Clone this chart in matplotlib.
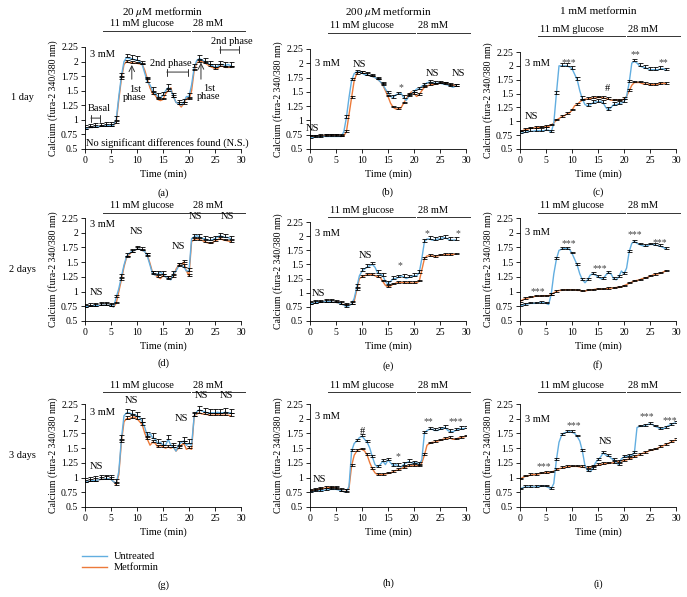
import numpy as np
import matplotlib
matplotlib.use('Agg')
import matplotlib.pyplot as plt

plt.rcParams['font.family'] = ['Liberation Serif', 'DejaVu Serif']
plt.rcParams['mathtext.fontset'] = 'stix'

blue = '#62aee0'
orange = '#ec7a3a'

# time axis (min), sampled every 0.5 min
t28 = np.arange(0, 28.01, 0.5)
t30 = np.arange(0, 30.01, 0.5)

# ---- row 1: 1 day ----
a_untreated = [0.85, 0.86, 0.87, 0.87, 0.88, 0.88, 0.89, 0.89, 0.9, 0.9, 0.9, 0.91,
               1.0, 1.4, 1.75, 2.0, 2.07, 2.05, 2.05, 2.03, 2.03, 2.0, 1.95, 1.8,
               1.65, 1.6, 1.5, 1.45, 1.4, 1.38, 1.42, 1.5, 1.55, 1.52, 1.4, 1.3,
               1.28, 1.25, 1.3, 1.4, 1.4, 1.6, 1.9, 2.02, 2.05, 2.03, 2.0, 1.97,
               1.95, 1.93, 1.9, 1.92, 1.95, 1.95, 1.93, 1.95, 1.93]
a_metformin = [0.85, 0.86, 0.87, 0.87, 0.88, 0.88, 0.89, 0.89, 0.9, 0.9, 0.9, 0.91,
               0.95, 1.35, 1.7, 1.95, 2.0, 1.98, 1.98, 1.97, 1.97, 1.96, 1.95, 1.85,
               1.7, 1.55, 1.45, 1.42, 1.35, 1.33, 1.35, 1.45, 1.5, 1.55, 1.4, 1.3,
               1.28, 1.22, 1.28, 1.37, 1.35, 1.5, 1.85, 1.98, 2.0, 2.0, 1.98, 1.95,
               1.92, 1.9, 1.88, 1.88, 1.92, 1.92, 1.9, 1.9, 1.9]
b_untreated = [0.7, 0.7, 0.71, 0.71, 0.71, 0.72, 0.72, 0.72, 0.72, 0.72, 0.72, 0.72,
               0.72, 0.8, 1.05, 1.4, 1.7, 1.82, 1.85, 1.85, 1.83, 1.8, 1.8, 1.78,
               1.77, 1.75, 1.72, 1.68, 1.63, 1.55, 1.48, 1.42, 1.4, 1.45, 1.46, 1.48,
               1.4, 1.35, 1.42, 1.47, 1.5, 1.55, 1.55, 1.6, 1.62, 1.66, 1.67, 1.66,
               1.65, 1.65, 1.65, 1.64, 1.63, 1.62, 1.6, 1.58, 1.6]
b_metformin = [0.72, 0.72, 0.72, 0.72, 0.73, 0.73, 0.74, 0.74, 0.74, 0.74, 0.74, 0.73,
               0.72, 0.73, 0.8, 1.1, 1.4, 1.7, 1.82, 1.85, 1.83, 1.82, 1.8, 1.78,
               1.77, 1.75, 1.72, 1.68, 1.62, 1.52, 1.42, 1.3, 1.23, 1.2, 1.2, 1.22,
               1.3, 1.38, 1.45, 1.5, 1.47, 1.42, 1.45, 1.52, 1.58, 1.6, 1.62, 1.63,
               1.63, 1.64, 1.65, 1.65, 1.65, 1.63, 1.62, 1.62, 1.61]
c_untreated = [0.78, 0.79, 0.8, 0.81, 0.82, 0.82, 0.83, 0.83, 0.83, 0.83, 0.84, 0.84,
               0.8, 0.97, 1.5, 2.0, 2.0, 2.0, 2.0, 1.98, 1.95, 1.85, 1.75, 1.55,
               1.4, 1.3, 1.28, 1.3, 1.33, 1.35, 1.35, 1.36, 1.33, 1.25, 1.2, 1.25,
               1.3, 1.3, 1.32, 1.33, 1.35, 1.45, 1.7, 2.05, 2.08, 2.05, 2.0, 1.98,
               1.97, 1.95, 1.93, 1.93, 1.93, 1.93, 1.94, 1.95, 1.92]
c_metformin = [0.82, 0.83, 0.85, 0.86, 0.87, 0.88, 0.88, 0.89, 0.89, 0.9, 0.9, 0.91,
               0.93, 0.97, 1.02, 1.05, 1.08, 1.1, 1.13, 1.15, 1.2, 1.28, 1.3, 1.35,
               1.38, 1.4, 1.4, 1.41, 1.42, 1.42, 1.43, 1.43, 1.42, 1.41, 1.4, 1.38,
               1.38, 1.39, 1.38, 1.38, 1.4, 1.45, 1.55, 1.65, 1.7, 1.7, 1.7, 1.68,
               1.67, 1.67, 1.66, 1.66, 1.66, 1.67, 1.68, 1.69, 1.68]

# ---- row 2: 2 days ----
d_untreated = [0.74, 0.75, 0.75, 0.76, 0.76, 0.76, 0.77, 0.77, 0.77, 0.77, 0.76, 0.74,
               0.9, 1.05, 1.25, 1.45, 1.6, 1.65, 1.68, 1.7, 1.72, 1.72, 1.7, 1.68,
               1.6, 1.45, 1.3, 1.28, 1.3, 1.33, 1.3, 1.25, 1.22, 1.2, 1.3, 1.35,
               1.43, 1.45, 1.42, 1.35, 1.35, 1.9, 1.93, 1.95, 1.93, 1.9, 1.9, 1.88,
               1.87, 1.88, 1.9, 1.93, 1.95, 1.93, 1.92, 1.92, 1.9]
d_metformin = [0.74, 0.75, 0.75, 0.76, 0.76, 0.76, 0.77, 0.77, 0.77, 0.77, 0.76, 0.74,
               0.8, 1.0, 1.2, 1.42, 1.58, 1.63, 1.67, 1.7, 1.72, 1.72, 1.7, 1.68,
               1.62, 1.48, 1.32, 1.28, 1.25, 1.22, 1.27, 1.25, 1.23, 1.22, 1.25, 1.38,
               1.45, 1.45, 1.5, 1.35, 1.27, 1.85, 1.88, 1.9, 1.88, 1.87, 1.85, 1.83,
               1.82, 1.83, 1.86, 1.88, 1.9, 1.88, 1.87, 1.86, 1.85]
e_untreated = [0.8, 0.81, 0.82, 0.83, 0.83, 0.84, 0.84, 0.84, 0.84, 0.83, 0.83, 0.82,
               0.8, 0.78, 0.75, 0.77, 0.8, 0.9, 1.1, 1.3, 1.38, 1.42, 1.45, 1.48,
               1.5, 1.45, 1.35, 1.33, 1.3, 1.2, 1.15, 1.2, 1.25, 1.25, 1.27, 1.3,
               1.28, 1.25, 1.27, 1.28, 1.3, 1.3, 1.35, 1.6, 1.9, 1.95, 1.95, 1.93,
               1.93, 1.95, 1.95, 1.97, 1.97, 1.95, 1.93, 1.93, 1.93]
e_metformin = [0.8, 0.81, 0.82, 0.83, 0.83, 0.84, 0.84, 0.84, 0.84, 0.83, 0.83, 0.82,
               0.8, 0.79, 0.78, 0.78, 0.8, 0.85, 1.05, 1.25, 1.28, 1.3, 1.32, 1.33,
               1.32, 1.3, 1.28, 1.27, 1.2, 1.13, 1.1, 1.12, 1.15, 1.17, 1.18, 1.18,
               1.18, 1.17, 1.18, 1.17, 1.17, 1.18, 1.2, 1.4, 1.6, 1.65, 1.65, 1.65,
               1.64, 1.65, 1.66, 1.67, 1.67, 1.67, 1.67, 1.68, 1.68]
f_untreated = [0.76, 0.77, 0.78, 0.79, 0.8, 0.8, 0.8, 0.81, 0.81, 0.81, 0.8, 0.78,
               0.95, 1.3, 1.55, 1.7, 1.72, 1.73, 1.73, 1.72, 1.65, 1.55, 1.45, 1.3,
               1.2, 1.15, 1.2, 1.28, 1.3, 1.28, 1.25, 1.22, 1.22, 1.28, 1.32, 1.3,
               1.22, 1.2, 1.25, 1.35, 1.3, 1.4, 1.68, 1.82, 1.85, 1.82, 1.8, 1.78,
               1.77, 1.78, 1.8, 1.8, 1.79, 1.78, 1.77, 1.75, 1.73]
f_metformin = [0.83, 0.86, 0.88, 0.89, 0.9, 0.91, 0.92, 0.92, 0.92, 0.93, 0.93, 0.93,
               0.95, 0.98, 1.0, 1.02, 1.02, 1.03, 1.03, 1.03, 1.03, 1.03, 1.02, 1.02,
               1.01, 1.01, 1.02, 1.03, 1.03, 1.04, 1.04, 1.04, 1.04, 1.05, 1.05, 1.06,
               1.06, 1.07, 1.07, 1.08, 1.1, 1.12, 1.14, 1.16, 1.18, 1.19, 1.2, 1.22,
               1.23, 1.24, 1.26, 1.28, 1.29, 1.3, 1.31, 1.33, 1.35]

# ---- row 3: 3 days ----
g_untreated = [0.92, 0.93, 0.94, 0.95, 0.95, 0.96, 0.97, 0.97, 0.98, 0.98, 0.97, 0.93,
               0.9, 1.1, 1.65, 2.05, 2.1, 2.1, 2.08, 2.07, 2.05, 2.02, 1.95, 1.85,
               1.7, 1.75, 1.68, 1.65, 1.58, 1.6, 1.55, 1.55, 1.65, 1.55, 1.52, 1.45,
               1.55, 1.6, 1.62, 1.55, 1.58, 1.55, 2.05, 2.12, 2.15, 2.13, 2.12, 2.1,
               2.1, 2.1, 2.1, 2.11, 2.1, 2.1, 2.11, 2.1, 2.1]
g_metformin = [0.92, 0.93, 0.94, 0.95, 0.95, 0.96, 0.97, 0.97, 0.98, 0.98, 0.97, 0.93,
               0.88, 1.05, 1.6, 1.95, 2.0, 2.0, 2.02, 2.03, 2.0, 1.95, 1.9, 1.75,
               1.65, 1.55, 1.6, 1.58, 1.52, 1.55, 1.52, 1.5, 1.52, 1.5, 1.52, 1.45,
               1.5, 1.55, 1.58, 1.48, 1.5, 1.48, 2.05, 2.08, 2.1, 2.08, 2.08, 2.07,
               2.06, 2.06, 2.06, 2.07, 2.06, 2.06, 2.06, 2.06, 2.05]
h_untreated = [0.75, 0.76, 0.77, 0.77, 0.78, 0.78, 0.79, 0.79, 0.8, 0.8, 0.8, 0.79,
               0.78, 0.76, 0.76, 0.85, 1.45, 1.58, 1.62, 1.68, 1.7, 1.65, 1.6, 1.5,
               1.35, 1.22, 1.18, 1.22, 1.28, 1.22, 1.3, 1.25, 1.2, 1.22, 1.2, 1.18,
               1.22, 1.25, 1.27, 1.25, 1.25, 1.25, 1.22, 1.3, 1.75, 1.8, 1.82, 1.82,
               1.8, 1.8, 1.82, 1.84, 1.85, 1.8, 1.78, 1.78, 1.8, 1.82, 1.83, 1.83, 1.84]
h_metformin = [0.77, 0.78, 0.79, 0.8, 0.81, 0.82, 0.82, 0.83, 0.83, 0.83, 0.82, 0.8,
               0.78, 0.76, 0.77, 0.82, 1.2, 1.38, 1.45, 1.48, 1.48, 1.45, 1.38, 1.25,
               1.15, 1.08, 1.05, 1.05, 1.05, 1.06, 1.07, 1.08, 1.1, 1.12, 1.13, 1.15,
               1.17, 1.18, 1.2, 1.2, 1.2, 1.2, 1.2, 1.25, 1.38, 1.55, 1.58, 1.6,
               1.6, 1.62, 1.63, 1.65, 1.66, 1.67, 1.67, 1.65, 1.65, 1.67, 1.68, 1.69, 1.7]
i_untreated = [0.8, 0.83, 0.84, 0.84, 0.84, 0.84, 0.84, 0.85, 0.85, 0.86, 0.85, 0.83,
               0.81, 0.9, 1.3, 1.6, 1.72, 1.76, 1.77, 1.78, 1.77, 1.75, 1.7, 1.62,
               1.45, 1.2, 1.12, 1.1, 1.15, 1.25, 1.3, 1.35, 1.42, 1.38, 1.37, 1.33,
               1.3, 1.25, 1.22, 1.32, 1.35, 1.36, 1.37, 1.38, 1.42, 1.85, 1.87, 1.87,
               1.88, 1.9, 1.91, 1.9, 1.87, 1.85, 1.83, 1.83, 1.85, 1.88, 1.9, 1.92, 1.93]
i_metformin = [0.97, 1.0, 1.02, 1.03, 1.04, 1.05, 1.05, 1.06, 1.07, 1.08, 1.08, 1.08,
               1.09, 1.11, 1.13, 1.15, 1.16, 1.17, 1.18, 1.19, 1.19, 1.19, 1.19, 1.18,
               1.18, 1.17, 1.17, 1.18, 1.19, 1.2, 1.21, 1.22, 1.23, 1.24, 1.24, 1.25,
               1.25, 1.26, 1.27, 1.28, 1.29, 1.3, 1.32, 1.33, 1.35, 1.37, 1.39, 1.41,
               1.42, 1.44, 1.46, 1.47, 1.48, 1.5, 1.52, 1.54, 1.56, 1.58, 1.6, 1.62, 1.64]

# typical SEM read off the caps (untreated, metformin)
sem = {'a': (0.06, 0.03), 'b': (0.04, 0.03), 'c': (0.05, 0.03),
       'd': (0.05, 0.03), 'e': (0.05, 0.03), 'f': (0.03, 0.02),
       'g': (0.07, 0.04), 'h': (0.04, 0.03), 'i': (0.03, 0.03)}

panel_data = {'a': (t28, a_untreated, a_metformin), 'b': (t28, b_untreated, b_metformin),
              'c': (t28, c_untreated, c_metformin), 'd': (t28, d_untreated, d_metformin),
              'e': (t28, e_untreated, e_metformin), 'f': (t28, f_untreated, f_metformin),
              'g': (t28, g_untreated, g_metformin), 'h': (t30, h_untreated, h_metformin),
              'i': (t30, i_untreated, i_metformin)}

titles = ['20 $\\mu$M metformin', '200 $\\mu$M metformin', '1 mM metformin']
row_labels = ['1 day', '2 days', '3 days']

# significance labels: (time, value, text)
labels = {
    'a': [],
    'b': [(0.4, 0.85, 'NS'), (9.5, 1.98, 'NS'), (17.5, 1.58, '*'), (23.6, 1.82, 'NS'), (28.6, 1.82, 'NS')],
    'c': [(2.2, 1.08, 'NS'), (9.3, 2.06, '***'), (16.9, 1.6, '#'), (22.1, 2.21, '**'), (27.6, 2.05, '**')],
    'd': [(2.2, 0.98, 'NS'), (9.9, 2.02, 'NS'), (17.9, 1.76, 'NS'), (21.2, 2.28, 'NS'), (27.4, 2.28, 'NS')],
    'e': [(1.6, 0.98, 'NS'), (10.6, 1.66, 'NS'), (17.3, 1.48, '*'), (22.4, 2.05, '*'), (28.4, 2.05, '*')],
    'f': [(3.5, 1.0, '***'), (9.3, 1.81, '***'), (15.4, 1.39, '***'), (22.0, 1.97, '***'), (26.9, 1.83, '***')],
    'g': [(2.2, 1.18, 'NS'), (9.0, 2.31, 'NS'), (18.6, 2.0, 'NS'), (22.3, 2.39, 'NS'), (27.2, 2.39, 'NS')],
    'h': [(1.9, 0.97, 'NS'), (10.1, 1.79, '#'), (16.9, 1.36, '*'), (22.8, 1.95, '**'), (28.0, 1.95, '***')],
    'i': [(4.5, 1.18, '***'), (10.4, 1.88, '***'), (16.5, 1.61, 'NS'), (24.4, 2.04, '***'), (28.8, 1.97, '***')],
}
mm3_y = {'a': 2.12, 'b': 2.0, 'c': 2.04, 'd': 2.14, 'e': 2.04, 'f': 2.0, 'g': 2.1, 'h': 2.03, 'i': 1.98}

W, H = 687, 597
fig = plt.figure(figsize=(W / 100, H / 100), dpi=100)

# axes boxes in pixels: left, right, top, bottom
boxes = {'a': (85, 241, 47, 149), 'b': (310, 466, 49, 149), 'c': (520, 676, 52, 149),
         'd': (85, 241, 218, 321), 'e': (310, 466, 222, 321), 'f': (520, 676, 218, 321),
         'g': (85, 241, 404, 507), 'h': (310, 466, 404, 507), 'i': (520, 676, 404, 507)}
letter_y = {'a': 193, 'b': 192, 'c': 192, 'd': 363, 'e': 366, 'f': 365, 'g': 585, 'h': 583, 'i': 584}
glucose_line = [16, 5, 12]   # px above the axes for each row

axes = {}
for k, key in enumerate('abcdefghi'):
    row, col = divmod(k, 3)
    l, r, tp, b = boxes[key]
    ax = fig.add_axes([l / W, 1 - b / H, (r - l) / W, (b - tp) / H])
    axes[key] = ax
    t, unt, met = panel_data[key]
    unt = np.array(unt)
    met = np.array(met)
    ax.plot(t, met, color=orange, lw=1.0, zorder=2)
    ax.plot(t, unt, color=blue, lw=1.0, zorder=3)
    su, sm = sem[key]
    idx = np.arange(0, len(t), 2)
    ax.errorbar(t[idx], met[idx], yerr=[np.zeros(len(idx)), np.full(len(idx), sm)],
                fmt='none', ecolor='black', elinewidth=0.6, capsize=1.8, capthick=0.6, zorder=4)
    ax.errorbar(t[idx], unt[idx], yerr=[np.zeros(len(idx)), np.full(len(idx), su)],
                fmt='none', ecolor='black', elinewidth=0.6, capsize=1.8, capthick=0.6, zorder=4)

    ax.set_xlim(0, 30)
    ax.set_ylim(0.5, 2.25)
    ax.set_xticks([0, 5, 10, 15, 20, 25, 30])
    ax.set_yticks([0.5, 0.75, 1, 1.25, 1.5, 1.75, 2, 2.25])
    ax.set_yticklabels(['0.5', '0.75', '1', '1.25', '1.5', '1.75', '2', '2.25'])
    ax.tick_params(labelsize=7, length=3, width=0.6, pad=2)
    for s in ['top', 'right']:
        ax.spines[s].set_visible(False)
    for s in ['left', 'bottom']:
        ax.spines[s].set_linewidth(0.6)
    ax.set_xlabel('Time (min)', fontsize=7.5, labelpad=3)
    ax.set_ylabel('Calcium (fura-2 340/380 nm)', fontsize=7, labelpad=2)

    ax.text(1.0, mm3_y[key], '3 mM', fontsize=7.5, ha='left', va='center')
    for (x, y, s) in labels[key]:
        if s.startswith('*'):
            ax.text(x, y, s, fontsize=7, ha='center', va='center', color='#444444')
        else:
            ax.text(x, y, s, fontsize=7.5, ha='center', va='center')

    # glucose bars above the panel
    ly = 1 + glucose_line[row] / (b - tp)
    ty = ly + 7 / (b - tp)
    tr = ax.get_xaxis_transform()
    ax.plot([3.5, 20.2], [ly, ly], color='#333333', lw=0.7, transform=tr, clip_on=False)
    ax.plot([20.5, 30.8], [ly, ly], color='#333333', lw=0.7, transform=tr, clip_on=False)
    ax.text(11.0 if col == 0 else 10.0, ty, '11 mM glucose', fontsize=7.5, ha='center', va='center',
            transform=tr)
    ax.text(20.7, ty, '28 mM', fontsize=7.5, ha='left', va='center', transform=tr)

    fig.text((l + r) / 2 / W, 1 - letter_y[key] / H, '(%s)' % key, fontsize=7.5,
             ha='center', va='center')
    if row == 0:
        fig.text((l + r) / 2 / W, 1 - 12 / H, titles[col], fontsize=8, ha='center', va='center')
    if col == 0:
        fig.text(22 / W, 1 - (tp + b) / 2 / H, row_labels[row], fontsize=7.5, ha='center', va='center')

# panel (a) extra annotations
ax = axes['a']
ax.annotate('', xy=(0.6, 1.03), xytext=(3.5, 1.03),
            arrowprops=dict(arrowstyle='|-|, widthA=0.25, widthB=0.25', lw=0.7, color='#333333'))
ax.text(0.5, 1.19, 'Basal', fontsize=7.5, ha='left', va='center')
ax.annotate('', xy=(9.0, 1.99), xytext=(9.0, 1.65),
            arrowprops=dict(arrowstyle='->', lw=0.7, color='#333333'))
ax.text(9.6, 1.45, '1st\nphase', fontsize=7.5, ha='center', va='center', linespacing=0.9)
ax.annotate('', xy=(22.3, 2.03), xytext=(22.3, 1.65),
            arrowprops=dict(arrowstyle='->', lw=0.7, color='#333333'))
ax.text(23.8, 1.47, '1st\nphase', fontsize=7.5, ha='center', va='center', linespacing=0.9)
ax.annotate('', xy=(15.2, 1.82), xytext=(20.4, 1.82),
            arrowprops=dict(arrowstyle='|-|, widthA=0.25, widthB=0.25', lw=0.7, color='#333333'))
ax.text(16.5, 1.96, '2nd phase', fontsize=7.5, ha='center', va='center')
ax.annotate('', xy=(25.4, 2.2), xytext=(30.2, 2.2), annotation_clip=False,
            arrowprops=dict(arrowstyle='|-|, widthA=0.25, widthB=0.25', lw=0.7, color='#333333'))
ax.text(28.3, 2.34, '2nd phase', fontsize=7.5, ha='center', va='center', clip_on=False)
ax.text(0.2, 0.6, 'No significant differences found (N.S.)', fontsize=7.5, ha='left', va='center')

# legend under panel (g)
handles = [plt.Line2D([], [], color=blue, lw=1.0), plt.Line2D([], [], color=orange, lw=1.0)]
fig.legend(handles, ['Untreated', 'Metformin'], loc='upper left',
           bbox_to_anchor=(78 / W, 1 - 548 / H), frameon=False, fontsize=7.5,
           handlelength=2.4, handletextpad=0.6, labelspacing=0.15, borderaxespad=0)

fig.savefig('out.png', dpi=100)
